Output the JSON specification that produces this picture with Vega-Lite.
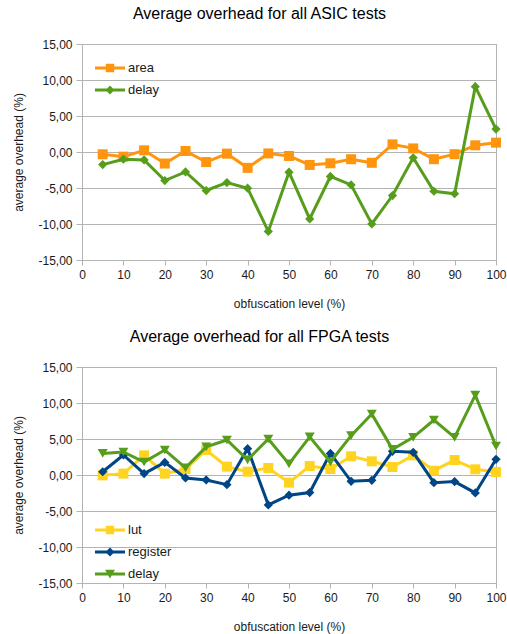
{
  "$schema": "https://vega.github.io/schema/vega-lite/v6.json",
  "autosize": {"type": "pad"},
  "padding": {"left": 12, "top": 5, "right": 4, "bottom": 4},
  "background": "white",
  "config": {
    "font": "Liberation Sans",
    "view": {"stroke": "#b3b3b3", "strokeWidth": 1},
    "title": {"font": "Liberation Sans", "fontSize": 16, "fontWeight": "normal", "color": "#000000", "anchor": "middle", "frame": "bounds", "offset": 16},
    "axis": {
      "labelFont": "Liberation Sans", "labelFontSize": 12, "labelColor": "#1a1a1a",
      "titleFont": "Liberation Sans", "titleFontSize": 12, "titleFontWeight": "normal", "titleColor": "#1a1a1a",
      "domainColor": "#b3b3b3", "tickColor": "#b3b3b3", "gridColor": "#b3b3b3", "domainWidth": 1, "tickWidth": 1, "gridWidth": 1
    },
    "legend": {"labelFont": "Liberation Sans", "labelFontSize": 13, "labelColor": "#1a1a1a"}
  },
  "datasets": {
    "asic": [
      {"level": 5, "series": "area", "value": -0.32}, {"level": 10, "series": "area", "value": -0.65}, {"level": 15, "series": "area", "value": 0.23}, {"level": 20, "series": "area", "value": -1.6}, {"level": 25, "series": "area", "value": 0.14},
      {"level": 30, "series": "area", "value": -1.4}, {"level": 35, "series": "area", "value": -0.23}, {"level": 40, "series": "area", "value": -2.2}, {"level": 45, "series": "area", "value": -0.2}, {"level": 50, "series": "area", "value": -0.55},
      {"level": 55, "series": "area", "value": -1.8}, {"level": 60, "series": "area", "value": -1.57}, {"level": 65, "series": "area", "value": -1.0}, {"level": 70, "series": "area", "value": -1.5}, {"level": 75, "series": "area", "value": 1.06},
      {"level": 80, "series": "area", "value": 0.5}, {"level": 85, "series": "area", "value": -1.0}, {"level": 90, "series": "area", "value": -0.3}, {"level": 95, "series": "area", "value": 0.93}, {"level": 100, "series": "area", "value": 1.3},
      {"level": 5, "series": "delay", "value": -1.75}, {"level": 10, "series": "delay", "value": -1.0}, {"level": 15, "series": "delay", "value": -1.1}, {"level": 20, "series": "delay", "value": -3.97}, {"level": 25, "series": "delay", "value": -2.77},
      {"level": 30, "series": "delay", "value": -5.35}, {"level": 35, "series": "delay", "value": -4.25}, {"level": 40, "series": "delay", "value": -5.03}, {"level": 45, "series": "delay", "value": -11.03}, {"level": 50, "series": "delay", "value": -2.8},
      {"level": 55, "series": "delay", "value": -9.3}, {"level": 60, "series": "delay", "value": -3.4}, {"level": 65, "series": "delay", "value": -4.57}, {"level": 70, "series": "delay", "value": -10.0}, {"level": 75, "series": "delay", "value": -6.05},
      {"level": 80, "series": "delay", "value": -0.8}, {"level": 85, "series": "delay", "value": -5.45}, {"level": 90, "series": "delay", "value": -5.8}, {"level": 95, "series": "delay", "value": 9.07}, {"level": 100, "series": "delay", "value": 3.18}
    ],
    "fpga": [
      {"level": 5, "series": "lut", "value": -0.05}, {"level": 10, "series": "lut", "value": 0.19}, {"level": 15, "series": "lut", "value": 2.73}, {"level": 20, "series": "lut", "value": 0.19}, {"level": 25, "series": "lut", "value": 0.83},
      {"level": 30, "series": "lut", "value": 3.47}, {"level": 35, "series": "lut", "value": 1.16}, {"level": 40, "series": "lut", "value": 0.46}, {"level": 45, "series": "lut", "value": 0.97}, {"level": 50, "series": "lut", "value": -1.06},
      {"level": 55, "series": "lut", "value": 1.25}, {"level": 60, "series": "lut", "value": 0.83}, {"level": 65, "series": "lut", "value": 2.6}, {"level": 70, "series": "lut", "value": 1.9}, {"level": 75, "series": "lut", "value": 1.11},
      {"level": 80, "series": "lut", "value": 2.73}, {"level": 85, "series": "lut", "value": 0.6}, {"level": 90, "series": "lut", "value": 2.08}, {"level": 95, "series": "lut", "value": 0.79}, {"level": 100, "series": "lut", "value": 0.42},
      {"level": 5, "series": "register", "value": 0.45}, {"level": 10, "series": "register", "value": 2.78}, {"level": 15, "series": "register", "value": 0.2}, {"level": 20, "series": "register", "value": 1.75}, {"level": 25, "series": "register", "value": -0.41},
      {"level": 30, "series": "register", "value": -0.69}, {"level": 35, "series": "register", "value": -1.34}, {"level": 40, "series": "register", "value": 3.66}, {"level": 45, "series": "register", "value": -4.15}, {"level": 50, "series": "register", "value": -2.81},
      {"level": 55, "series": "register", "value": -2.44}, {"level": 60, "series": "register", "value": 3.0}, {"level": 65, "series": "register", "value": -0.88}, {"level": 70, "series": "register", "value": -0.74}, {"level": 75, "series": "register", "value": 3.29},
      {"level": 80, "series": "register", "value": 3.15}, {"level": 85, "series": "register", "value": -1.06}, {"level": 90, "series": "register", "value": -0.92}, {"level": 95, "series": "register", "value": -2.49}, {"level": 100, "series": "register", "value": 2.18},
      {"level": 5, "series": "delay", "value": 3.0}, {"level": 10, "series": "delay", "value": 3.2}, {"level": 15, "series": "delay", "value": 1.8}, {"level": 20, "series": "delay", "value": 3.47}, {"level": 25, "series": "delay", "value": 1.0},
      {"level": 30, "series": "delay", "value": 3.9}, {"level": 35, "series": "delay", "value": 4.86}, {"level": 40, "series": "delay", "value": 2.1}, {"level": 45, "series": "delay", "value": 5.0}, {"level": 50, "series": "delay", "value": 1.55},
      {"level": 55, "series": "delay", "value": 5.3}, {"level": 60, "series": "delay", "value": 1.8}, {"level": 65, "series": "delay", "value": 5.46}, {"level": 70, "series": "delay", "value": 8.47}, {"level": 75, "series": "delay", "value": 3.56},
      {"level": 80, "series": "delay", "value": 5.23}, {"level": 85, "series": "delay", "value": 7.64}, {"level": 90, "series": "delay", "value": 5.23}, {"level": 95, "series": "delay", "value": 11.1}, {"level": 100, "series": "delay", "value": 4.03}
    ]
  },
  "vconcat": [
    {
      "title": "Average overhead for all ASIC tests",
      "width": 414,
      "height": 216,
      "data": {"name": "asic"},
      "encoding": {
        "x": {"field": "level", "type": "quantitative", "title": "obfuscation level (%)",
          "scale": {"domain": [0, 100], "nice": false, "zero": false},
          "axis": {"values": [0, 10, 20, 30, 40, 50, 60, 70, 80, 90, 100], "grid": false, "tickSize": 5, "labelPadding": 4, "titlePadding": 18, "labelFlush": false}},
        "y": {"field": "value", "type": "quantitative", "title": "average overhead (%)",
          "scale": {"domain": [-15, 15], "nice": false},
          "axis": {"values": [-15, -10, -5, 0, 5, 10, 15], "tickSize": 6, "labelPadding": 4, "titlePadding": 12,
            "labelExpr": "(datum.value < 0 ? '-' : '') + replace(format(abs(datum.value), '.2f'), '.', ',')"}}
      },
      "layer": [
        {"transform": [{"filter": "datum.series === 'area'"}], "mark": {"type": "line", "strokeWidth": 3, "color": "#ff950e"}},
        {"transform": [{"filter": "datum.series === 'area'"}], "mark": {"type": "point", "shape": "square", "filled": true, "opacity": 1, "size": 100, "color": "#ff950e"}},
        {"transform": [{"filter": "datum.series === 'delay'"}], "mark": {"type": "line", "strokeWidth": 3, "color": "#579d1c"}},
        {"transform": [{"filter": "datum.series === 'delay'"}], "mark": {"type": "point", "shape": "diamond", "filled": true, "opacity": 1, "size": 85, "color": "#579d1c"}},
        {"transform": [{"filter": "datum.level > 1000"}],
          "mark": {"type": "point", "filled": true, "opacity": 1},
          "encoding": {
            "color": {"field": "series", "type": "nominal", "title": null,
              "scale": {"domain": ["area", "delay"], "range": ["#ff950e", "#579d1c"]},
              "legend": {"orient": "none", "legendX": 13, "legendY": 9, "padding": 0, "rowPadding": -8, "labelOffset": 3, "symbolSize": 900, "symbolStrokeWidth": 0}},
            "shape": {"field": "series", "type": "nominal", "title": null,
              "scale": {"domain": ["area", "delay"], "range": ["M-1,-0.1H1V0.1H-1Z M-0.28,-0.28H0.28V0.28H-0.28Z", "M-1,-0.1H1V0.1H-1Z M0,-0.3L0.3,0L0,0.3L-0.3,0Z"]}}
          }
        }
      ]
    },
    {
      "title": "Average overhead for all FPGA tests",
      "width": 414,
      "height": 216,
      "data": {"name": "fpga"},
      "encoding": {
        "x": {"field": "level", "type": "quantitative", "title": "obfuscation level (%)",
          "scale": {"domain": [0, 100], "nice": false, "zero": false},
          "axis": {"values": [0, 10, 20, 30, 40, 50, 60, 70, 80, 90, 100], "grid": false, "tickSize": 5, "labelPadding": 4, "titlePadding": 18, "labelFlush": false}},
        "y": {"field": "value", "type": "quantitative", "title": "average overhead (%)",
          "scale": {"domain": [-15, 15], "nice": false},
          "axis": {"values": [-15, -10, -5, 0, 5, 10, 15], "tickSize": 6, "labelPadding": 4, "titlePadding": 12,
            "labelExpr": "(datum.value < 0 ? '-' : '') + replace(format(abs(datum.value), '.2f'), '.', ',')"}}
      },
      "layer": [
        {"transform": [{"filter": "datum.series === 'lut'"}], "mark": {"type": "line", "strokeWidth": 3, "color": "#ffd320"}},
        {"transform": [{"filter": "datum.series === 'lut'"}], "mark": {"type": "point", "shape": "square", "filled": true, "opacity": 1, "size": 100, "color": "#ffd320"}},
        {"transform": [{"filter": "datum.series === 'register'"}], "mark": {"type": "line", "strokeWidth": 3, "color": "#004586"}},
        {"transform": [{"filter": "datum.series === 'register'"}], "mark": {"type": "point", "shape": "diamond", "filled": true, "opacity": 1, "size": 85, "color": "#004586"}},
        {"transform": [{"filter": "datum.series === 'delay'"}], "mark": {"type": "line", "strokeWidth": 3, "color": "#579d1c"}},
        {"transform": [{"filter": "datum.series === 'delay'"}], "mark": {"type": "point", "shape": "triangle-down", "filled": true, "opacity": 1, "size": 100, "color": "#579d1c"}},
        {"transform": [{"filter": "datum.level > 1000"}],
          "mark": {"type": "point", "filled": true, "opacity": 1},
          "encoding": {
            "color": {"field": "series", "type": "nominal", "title": null,
              "scale": {"domain": ["lut", "register", "delay"], "range": ["#ffd320", "#004586", "#579d1c"]},
              "legend": {"orient": "none", "legendX": 13, "legendY": 148, "padding": 0, "rowPadding": -8, "labelOffset": 3, "symbolSize": 900, "symbolStrokeWidth": 0}},
            "shape": {"field": "series", "type": "nominal", "title": null,
              "scale": {"domain": ["lut", "register", "delay"], "range": ["M-1,-0.1H1V0.1H-1Z M-0.28,-0.28H0.28V0.28H-0.28Z", "M-1,-0.1H1V0.1H-1Z M0,-0.3L0.3,0L0,0.3L-0.3,0Z", "M-1,-0.1H1V0.1H-1Z M-0.33,-0.28L0.33,-0.28L0,0.3Z"]}}
          }
        }
      ]
    }
  ],
  "spacing": 18,
  "resolve": {"scale": {"color": "independent", "shape": "independent"}, "legend": {"color": "independent", "shape": "independent"}}
}
